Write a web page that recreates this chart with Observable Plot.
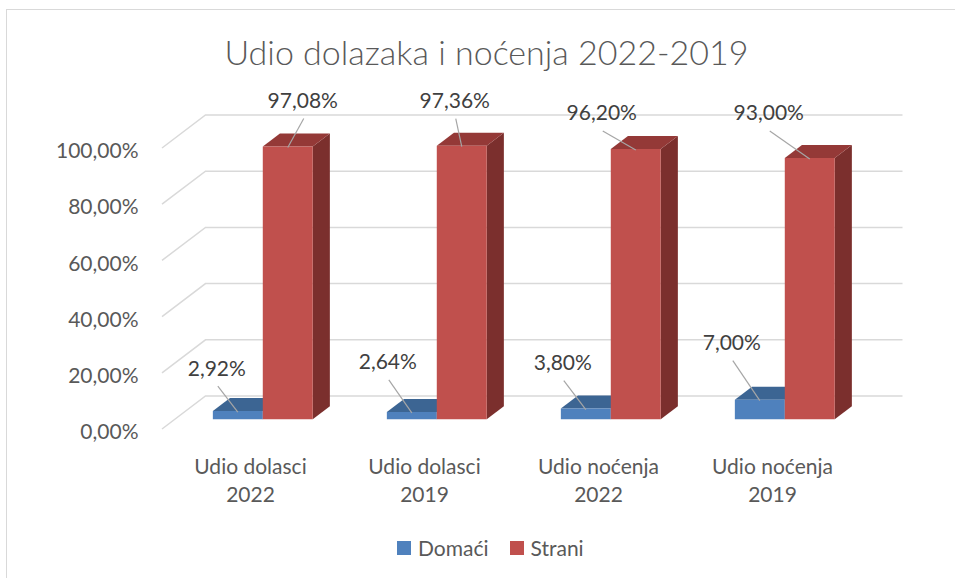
<!DOCTYPE html>
<html><head><meta charset="utf-8">
<script src="https://cdn.jsdelivr.net/npm/d3@7"></script>
<script src="https://cdn.jsdelivr.net/npm/@observablehq/plot@0.6"></script>
<style>
body{margin:0;background:#fff;font-family:Lato,sans-serif;}
#wrap{position:relative;width:955px;height:578px;overflow:hidden;background:#fff}
#frame{position:absolute;left:6px;top:9px;width:990px;height:600px;border:1.5px solid #d9d9d9;box-sizing:border-box}
#title{position:absolute;left:0;width:973px;top:32px;text-align:center;font-size:34px;font-weight:300;color:#595959;line-height:40px;white-space:nowrap}
#chart{position:absolute;left:0;top:80px}
#legend{position:absolute;top:536px;left:397px;display:flex;align-items:center;font-size:21px;line-height:24px;color:#595959}
#legend .item{display:flex;align-items:center}
#legend .sw{width:14px;height:14px;display:inline-block;margin-right:7px}
</style></head>
<body>
<div id="wrap">
  <div id="frame"></div>
  <div id="title"></div>
  <div id="chart"></div>
  <div id="legend"></div>
</div>
<script>
// ---- data ----
const titleText = "Udio dolazaka i noćenja 2022-2019";
const categories = ["Udio dolasci\n2022", "Udio dolasci\n2019", "Udio noćenja\n2022", "Udio noćenja\n2019"];
const seriesNames = ["Domaći", "Strani"];
const domaci = [0.0292, 0.0264, 0.038, 0.07];
const strani = [0.9708, 0.9736, 0.962, 0.93];
const yTicks = [0, 0.2, 0.4, 0.6, 0.8, 1.0];

// ---- styles / layout ----
const faceColors = {
  "Domaći": {front: "#4F81BD", top: "#3C6593", side: "#2F4F75"},
  "Strani": {front: "#C0504D", top: "#943937", side: "#7B2F2D"}
};
// label nudges relative to bar front-top centre (Excel's manual placement)
const labelNudge = {
  "Domaći": [[-21, -43], [-24, -50], [-23, -46], [-28, -57]],
  "Strani": [[15, -46], [-7, -45], [-34, -36], [-41, -45]]
};
const DX = 43.5, DY = -33;      // floor depth projection
const D0 = 0.294, DD = 0.394;   // bar depth start / depth as fraction of floor
const BAR = 0.287;              // bar width as fraction of band

const fmt = v => (v * 100).toFixed(2).replace(".", ",") + "%";
const rows = [];
categories.forEach((c, i) => {
  rows.push({cat: c, series: "Domaći", value: domaci[i], i});
  rows.push({cat: c, series: "Strani", value: strani[i], i});
});

document.getElementById("title").textContent = titleText;

function geom(r, x, y) {
  const bw = x.bandwidth();
  const c = x(r.cat) + bw / 2 + D0 * DX;
  const w = BAR * bw;
  const xl = r.series === "Domaći" ? c - w : c;
  const xr = xl + w;
  const yb = y(0) + D0 * DY;
  const yt = y(r.value) + D0 * DY;
  return {xl, xr, yb, yt, bdx: DD * DX, bdy: DD * DY, cx: (xl + xr) / 2};
}

function gridMark(index, {x, y}, values, dims) {
  const g = d3.create("svg:g").attr("fill", "none").attr("stroke", "#d9d9d9").attr("stroke-width", 1.5);
  const x0 = dims.marginLeft, x1 = dims.width - dims.marginRight;
  for (const t of yTicks) {
    const yf = y(t);
    g.append("path").attr("d", `M${x0},${yf}L${x0 + DX},${yf + DY}L${x1 + DX},${yf + DY}`);
  }
  return g.node();
}

function barsMark(index, {x, y}) {
  const g = d3.create("svg:g");
  for (const s of seriesNames) {
    for (const r of rows.filter(d => d.series === s)) {
      const {xl, xr, yb, yt, bdx, bdy} = geom(r, x, y);
      const col = faceColors[s];
      g.append("path").attr("fill", col.side)
        .attr("d", `M${xr},${yb}L${xr + bdx},${yb + bdy}L${xr + bdx},${yt + bdy}L${xr},${yt}Z`);
      g.append("path").attr("fill", col.top)
        .attr("d", `M${xl},${yt}L${xr},${yt}L${xr + bdx},${yt + bdy}L${xl + bdx},${yt + bdy}Z`);
      g.append("path").attr("fill", col.front)
        .attr("d", `M${xl},${yb}L${xr},${yb}L${xr},${yt}L${xl},${yt}Z`);
    }
  }
  return g.node();
}

function labelsMark(index, {x, y}) {
  const g = d3.create("svg:g");
  for (const r of rows) {
    const {cx, yt} = geom(r, x, y);
    const [nx, ny] = labelNudge[r.series][r.i];
    const lx = cx + nx, ly = yt + ny;
    g.append("line").attr("x1", lx + 1).attr("y1", ly + 18).attr("x2", cx).attr("y2", yt + 1)
      .attr("stroke", "#a6a6a6").attr("stroke-width", 1.2);
    g.append("text").attr("x", lx).attr("y", ly + 7.5).attr("text-anchor", "middle")
      .attr("fill", "#404040").attr("font-size", 21).text(fmt(r.value));
  }
  return g.node();
}

const chart = Plot.plot({
  width: 955, height: 440,
  marginLeft: 162, marginRight: 96, marginTop: 68, marginBottom: 91,
  x: {type: "band", domain: categories, padding: 0, axis: null},
  y: {domain: [0, 1], axis: null},
  style: {fontFamily: "Lato, sans-serif", fontSize: "21px", color: "#595959", background: "transparent", overflow: "visible"},
  marks: [
    gridMark,
    Plot.text(yTicks, {y: d => d, text: fmt, frameAnchor: "left", textAnchor: "end", dx: -24, dy: 3, fill: "#595959", fontSize: 21}),
    Plot.text(categories, {x: d => d, text: d => d, frameAnchor: "bottom", lineAnchor: "top", dy: 24, lineHeight: 1.35, fill: "#595959", fontSize: 21}),
    barsMark,
    labelsMark
  ]
});
document.getElementById("chart").appendChild(chart);

const legend = d3.select("#legend");
seriesNames.forEach((s, k) => {
  const it = legend.append("div").attr("class", "item").style("margin-left", k ? "21px" : "0px");
  it.append("span").attr("class", "sw").style("background", faceColors[s].front);
  it.append("span").text(s);
});
</script>
</body></html>
